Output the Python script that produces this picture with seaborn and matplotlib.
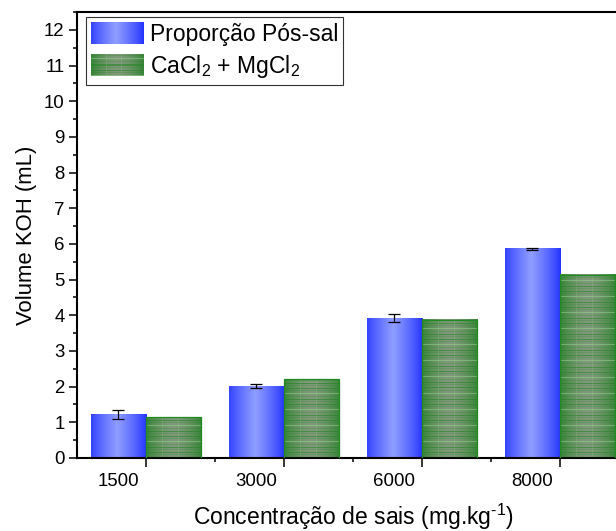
import numpy as np
import pandas as pd
import matplotlib
matplotlib.use("Agg")
import matplotlib.pyplot as plt
from matplotlib.ticker import MultipleLocator, FixedLocator
from matplotlib.patches import Patch
import matplotlib.transforms as mtransforms
import seaborn as sns

# ---- data ----
concentrations = ["1500", "3000", "6000", "8000"]
series_names = ["Proporção Pós-sal", "CaCl$_2$ + MgCl$_2$"]
vol_pos_sal = [1.22, 2.01, 3.92, 5.86]
err_pos_sal = [0.13, 0.05, 0.12, 0.03]
vol_cacl_mgcl = [1.14, 2.21, 3.88, 5.13]

sns.set_theme(style="ticks")
plt.rcParams["font.family"] = ["Liberation Sans", "DejaVu Sans"]
plt.rcParams["mathtext.fontset"] = "custom"
plt.rcParams["mathtext.rm"] = "Liberation Sans"
plt.rcParams["mathtext.it"] = "Liberation Sans:italic"
plt.rcParams["mathtext.bf"] = "Liberation Sans:bold"
plt.rcParams["mathtext.default"] = "regular"
plt.rcParams["text.color"] = "black"
plt.rcParams["axes.labelcolor"] = "black"
plt.rcParams["xtick.color"] = "black"
plt.rcParams["ytick.color"] = "black"

df = pd.DataFrame({
    "conc": concentrations * 2,
    "vol": vol_pos_sal + vol_cacl_mgcl,
    "serie": [series_names[0]] * 4 + [series_names[1]] * 4,
})

fig = plt.figure(figsize=(6.16, 5.31), dpi=100)
ax = fig.add_axes([0.125, 0.1375, 0.896, 0.8399])

sns.barplot(data=df, x="conc", y="vol", hue="serie", order=concentrations,
            hue_order=series_names, palette=["#3344ff", "#5a9a55"],
            errorbar=None, width=0.8, ax=ax, legend=False)

ax.set_xlim(-0.5, 3.5)
ax.set_ylim(0, 12.5)


def blue_texture(h, w):
    u = (np.arange(w) + 0.5) / w
    t = np.clip(1 - np.abs(u - 0.47) / 0.53, 0, 1) ** 0.8
    dark = np.array([0.12, 0.18, 1.0])
    light = np.array([0.56, 0.62, 1.0])
    row = dark[None, :] * (1 - t[:, None]) + light[None, :] * t[:, None]
    return np.repeat(row[None, :, :], h, axis=0)


def green_texture(h, w):
    u = (np.arange(w) + 0.5) / w
    e = np.clip(np.abs(u - 0.5) * 2, 0, 1) ** 1.6
    center = np.array([0.50, 0.60, 0.48])
    edge = np.array([0.22, 0.52, 0.22])
    row = center[None, :] * (1 - e[:, None]) + edge[None, :] * e[:, None]
    img = np.repeat(row[None, :, :], h, axis=0).copy()
    rows = np.arange(h)[::-1]
    dark_line = np.array([0.14, 0.52, 0.14])
    light_line = np.array([0.58, 0.82, 0.55])
    for r in range(h):
        k = rows[r] % 16
        if k == 0:
            img[r] = 0.45 * img[r] + 0.55 * light_line
        elif k in (5, 10):
            img[r] = 0.4 * img[r] + 0.6 * dark_line
        elif k in (3, 8, 13):
            img[r] = 0.75 * img[r] + 0.25 * dark_line
    # faint vertical streaks
    for c in (int(w * 0.3), int(w * 0.58)):
        if 0 <= c < w:
            img[:, c] = 0.8 * img[:, c] + 0.2 * light_line
    return np.clip(img, 0, 1)


def px_size(x0, x1, y0, y1):
    p0 = ax.transData.transform((x0, y0))
    p1 = ax.transData.transform((x1, y1))
    return max(int(round(abs(p1[1] - p0[1]))), 1), max(int(round(abs(p1[0] - p0[0]))), 1)


blue_bars, green_bars = ax.containers[0], ax.containers[1]
for bar in blue_bars:
    x, w, h = bar.get_x(), bar.get_width(), bar.get_height()
    hp, wp = px_size(x, x + w, 0, h)
    ax.imshow(blue_texture(hp, wp), extent=[x, x + w, 0, h], aspect="auto",
              interpolation="bilinear", zorder=2.5)
    bar.set_edgecolor("none")
for bar in green_bars:
    x, w, h = bar.get_x(), bar.get_width(), bar.get_height()
    hp, wp = px_size(x, x + w, 0, h)
    ax.imshow(green_texture(hp, wp), extent=[x, x + w, 0, h], aspect="auto",
              interpolation="nearest", zorder=2.5)
    bar.set_edgecolor("#1f8a1f")
    bar.set_linewidth(0.9)
    bar.set_zorder(2.6)
    bar.set_facecolor("none")

# error bars on the first series
bx = [b.get_x() + b.get_width() / 2 for b in blue_bars]
ax.errorbar(bx, vol_pos_sal, yerr=err_pos_sal, fmt="none", ecolor="black",
            elinewidth=0.9, capsize=4.2, capthick=0.9, zorder=3)

ax.set_xlim(-0.5, 3.5)
ax.set_ylim(0, 12.5)

# axes styling
for side in ("left", "bottom", "top", "right"):
    ax.spines[side].set_visible(True)
    ax.spines[side].set_linewidth(1.5)
    ax.spines[side].set_color("black")

ax.yaxis.set_major_locator(MultipleLocator(1))
ax.yaxis.set_minor_locator(MultipleLocator(0.5))
ax.tick_params(axis="y", which="major", length=5.5, width=1.1, pad=3.5,
               labelsize=13.4, direction="out", colors="black")
ax.tick_params(axis="y", which="minor", length=3, width=1.1, direction="out")

ax.set_xticks(range(len(concentrations)))
ax.set_xticklabels(concentrations)
ax.xaxis.set_minor_locator(FixedLocator([0.5, 1.5, 2.5]))
ax.tick_params(axis="x", which="major", length=6.5, width=1.1, pad=4,
               labelsize=13.4, direction="out", colors="black")
ax.tick_params(axis="x", which="minor", length=3, width=1.1, direction="out")
shift = mtransforms.ScaledTranslation(-0.276, 0, fig.dpi_scale_trans)
for lab in ax.get_xticklabels():
    lab.set_transform(lab.get_transform() + shift)

ax.set_xlabel("Concentração de sais (mg.kg$^{\\text{-}1}$)", fontsize=16.5,
              labelpad=8.5, color="black")
ax.set_ylabel("Volume KOH (mL)", fontsize=15.9, labelpad=4.5, color="black")

# legend with textured keys
handles = [Patch(facecolor="#3344ff", edgecolor="none"),
           Patch(facecolor="#5a9a55", edgecolor="none")]
leg = ax.legend(handles, series_names, loc="upper left", fontsize=16.5,
                frameon=True, fancybox=False, edgecolor="#333333",
                framealpha=1, borderpad=0.22, borderaxespad=0.0,
                bbox_to_anchor=(0.0165, 0.989),
                handlelength=2.3, handleheight=1.12, handletextpad=0.26,
                labelspacing=0.3)
leg.get_frame().set_linewidth(0.8)
for t in leg.get_texts():
    t.set_color("black")

fig.canvas.draw()
renderer = fig.canvas.get_renderer()
for hnd, tex in zip(leg.legend_handles, (blue_texture, green_texture)):
    bb = hnd.get_window_extent(renderer)
    W, H = fig.bbox.width, fig.bbox.height
    iax = fig.add_axes([bb.x0 / W, bb.y0 / H, bb.width / W, bb.height / H])
    iax.imshow(tex(int(round(bb.height)), int(round(bb.width))), aspect="auto",
               interpolation="nearest")
    iax.set_axis_off()

fig.savefig("out.png", dpi=100)
